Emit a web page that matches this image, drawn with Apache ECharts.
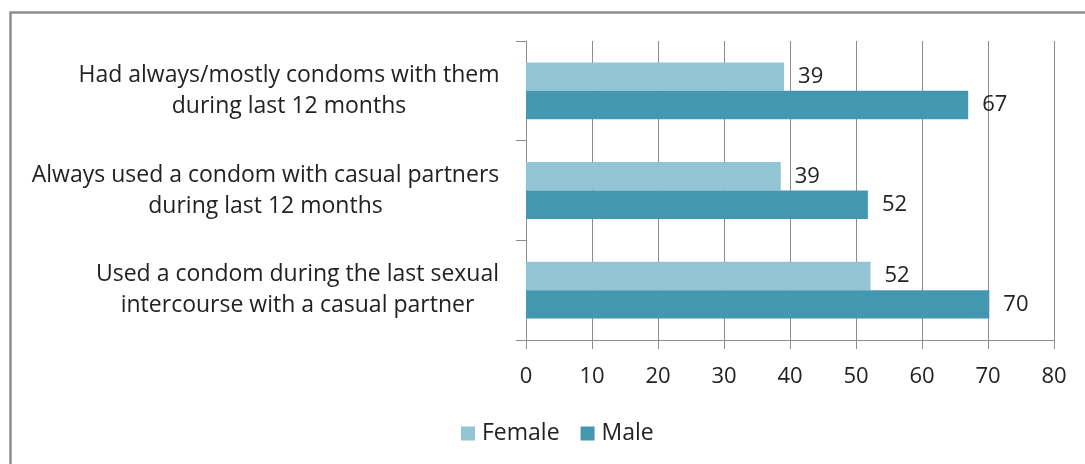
<!DOCTYPE html>
<html>
<head>
<meta charset="utf-8">
<script src="https://cdn.jsdelivr.net/npm/echarts@6/dist/echarts.min.js"></script>
<style>html,body{margin:0;padding:0;background:#fff}#c{width:1085px;height:464px}</style>
</head>
<body>
<div id="c"></div>
<script>
const categories = [
  "Had always/mostly condoms with them\nduring last 12 months",
  "Always used a condom with casual partners\nduring last 12 months",
  "Used a condom during the last sexual\nintercourse with a casual partner"
];
const seriesNames = ["Female", "Male"];
const femaleValues = [39.1, 38.6, 52.2];
const maleValues = [67.0, 51.8, 70.2];
const xTicks = [0, 10, 20, 30, 40, 50, 60, 70, 80];

const FONT = "Open Sans";
const CAT_FS = 23;

// Measure each category block so its lines can be centred inside a right-aligned block
const ctx = document.createElement('canvas').getContext('2d');
ctx.font = CAT_FS + 'px "' + FONT + '"';
const rich = {};
categories.forEach((c, i) => {
  const w = Math.max(...c.split('\n').map(s => ctx.measureText(s).width));
  rich['c' + i] = {
    width: Math.ceil(w) + 1, align: 'center',
    fontFamily: FONT, fontSize: CAT_FS, lineHeight: 31, color: '#222'
  };
});

const chart = echarts.init(document.getElementById('c'), null, {renderer: 'canvas'});
const labelCfg = {
  show: true, position: 'right', distance: 14,
  color: '#222', fontFamily: FONT, fontSize: 22,
  formatter: p => Math.round(p.value)
};
chart.setOption({
  animation: false,
  backgroundColor: '#fff',
  graphic: [{
    type: 'rect', shape: {x: 10.5, y: 12.5, width: 1090, height: 470},
    style: {fill: 'none', stroke: '#8c8c8c', lineWidth: 2.5}, silent: true
  }],
  grid: {left: 526, right: 31, top: 41, bottom: 124},
  legend: {
    data: seriesNames, bottom: 19, left: 461, padding: 0,
    itemWidth: 14, itemHeight: 14, itemGap: 21,
    icon: 'rect',
    textStyle: {fontFamily: FONT, fontSize: 23, color: '#222', padding: [0, 0, 0, 2]}
  },
  xAxis: {
    type: 'value', min: xTicks[0], max: xTicks[xTicks.length - 1], interval: 10,
    axisLine: {show: true, lineStyle: {color: '#8c8c8c', width: 1}},
    axisTick: {show: true, length: 9, lineStyle: {color: '#8c8c8c'}},
    splitLine: {show: true, lineStyle: {color: '#8c8c8c', width: 1}},
    axisLabel: {color: '#222', fontFamily: FONT, fontSize: 22, margin: 26}
  },
  yAxis: {
    type: 'category', data: categories, inverse: true,
    axisLine: {show: true, lineStyle: {color: '#8c8c8c', width: 1}},
    axisTick: {show: true, length: 10, lineStyle: {color: '#8c8c8c'}},
    axisLabel: {
      align: 'right', margin: 26, lineHeight: 31,
      formatter: (v, i) => v.split('\n').map(s => '{c' + i + '|' + s + '}').join('\n'),
      rich: rich
    }
  },
  series: [
    {name: seriesNames[0], type: 'bar', data: femaleValues, barGap: '0%', barCategoryGap: '43%',
     itemStyle: {color: '#93c4d4'}, label: labelCfg},
    {name: seriesNames[1], type: 'bar', data: maleValues, barGap: '0%', barCategoryGap: '43%',
     itemStyle: {color: '#4397ae'}, label: labelCfg}
  ]
});
</script>
</body>
</html>
